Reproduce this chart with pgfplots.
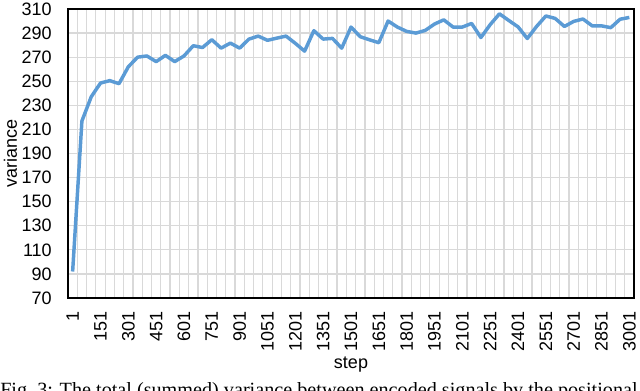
\documentclass[border=0pt]{standalone}
\usepackage{fontspec}
\setmainfont{Liberation Sans}
\newfontfamily\capfont{Liberation Serif}
\usepackage{pgfplots}
\pgfplotsset{compat=1.18}
\definecolor{xlblue}{RGB}{91,155,213}
\definecolor{gridgray}{RGB}{217,217,217}

\begin{document}
\begin{tikzpicture}
% page = 640x390 px, 1 px = 0.75 pt
\useasboundingbox (0,0) rectangle (480pt,292.5pt);
\begin{axis}[
    at={(51pt,69pt)}, anchor=south west,
    width=424.5pt, height=216.75pt, scale only axis,
    xmin=-24, xmax=3026, ymin=70, ymax=310,
    xtick={1,151,...,3001},
    minor xtick={26,76,...,2976},
    ytick={70,90,...,310},
    xmajorgrids=false, xminorgrids=true, ymajorgrids=true,
    grid style={draw=gridgray, line width=0.9pt},
    minor grid style={draw=gridgray, line width=0.9pt},
    major tick length=0pt, minor tick length=0pt,
    axis line style={black, line width=1.3pt},
    tick label style={font=\fontsize{13.5}{16}\selectfont, inner sep=0pt},
    /pgf/number format/assume math mode=true,
    /pgf/number format/set thousands separator={},
    xticklabel style={rotate=90, anchor=east},
    yticklabel style={anchor=east},
    xticklabel shift=10pt,
    yticklabel shift=12pt,
]
\addplot[xlblue, line width=2.6pt, line join=round] coordinates {
(1,92) (51,217) (101,237) (151,248.5) (201,250.5) (251,248)
(301,262) (351,270) (401,271) (451,266.3) (501,271.5) (551,266.3)
(601,271) (651,279.5) (701,278) (751,284.5) (801,277.5) (851,281.7)
(901,277.5) (951,285) (1001,287.5) (1051,284) (1101,285.8) (1151,287.5)
(1201,281.5) (1251,275) (1301,292) (1351,285) (1401,285.6) (1451,277.5)
(1501,295) (1551,287) (1601,284.4) (1651,282) (1701,300) (1751,295)
(1801,291.4) (1851,290) (1901,292.2) (1951,297.5) (2001,301) (2051,295)
(2101,295) (2151,298) (2201,286.3) (2251,297) (2301,306) (2351,300.5)
(2401,295.2) (2451,285.5) (2501,295.5) (2551,304.2) (2601,302.2) (2651,295.5)
(2701,299.7) (2751,301.7) (2801,296) (2851,296) (2901,294.5) (2951,301.5)
(3001,303)
};
\end{axis}
\node[rotate=90, anchor=base, font=\fontsize{13.5}{16}\selectfont] at (12.75pt,177.4pt) {variance};
\node[anchor=base, font=\fontsize{13.5}{16}\selectfont] at (263.25pt,16.5pt) {step};
\node[anchor=base west, inner sep=0pt] at (0pt,-5pt) {\resizebox{478pt}{!}{\capfont Fig.~3: The total (summed) variance between encoded signals by the positional}};
\end{tikzpicture}
\end{document}
